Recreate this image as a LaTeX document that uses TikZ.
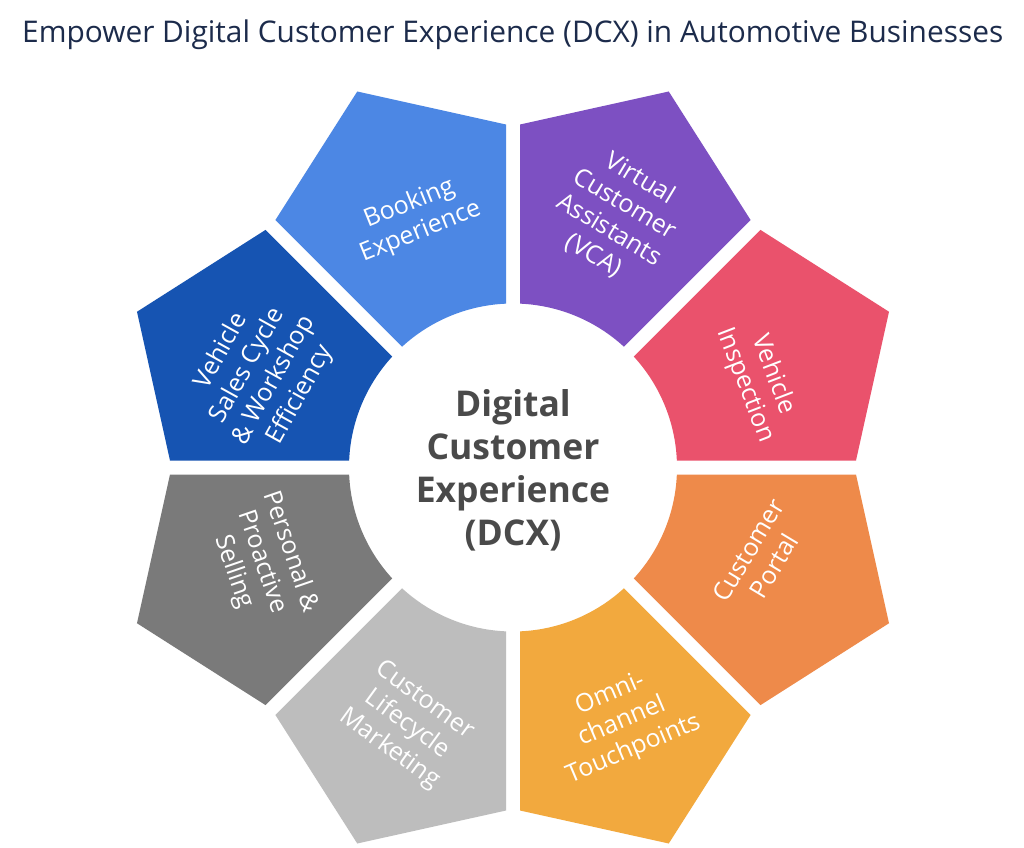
\documentclass[tikz,border=0pt]{standalone}
\usepackage{fontspec}
\setmainfont{Open Sans}
\usetikzlibrary{calc}
\definecolor{cInsp}{HTML}{EA526C}
\definecolor{cVCA}{HTML}{7D50C2}
\definecolor{cBook}{HTML}{4C87E4}
\definecolor{cSales}{HTML}{1654B2}
\definecolor{cPers}{HTML}{7A7A7A}
\definecolor{cLife}{HTML}{BDBDBD}
\definecolor{cOmni}{HTML}{F2A93E}
\definecolor{cPort}{HTML}{EE8A4A}
\definecolor{cTitle}{HTML}{1C2B4B}
\definecolor{cCenter}{HTML}{4A4A4A}
\tikzset{
  seglabel/.style={text=white, align=center, font=\fontsize{25}{30}\selectfont, inner sep=0pt},
  centerlabel/.style={text=cCenter, align=center, font=\fontsize{35.5}{43}\selectfont\bfseries, inner sep=0pt},
  titlelabel/.style={text=cTitle, anchor=base west, inner sep=0pt}
}
\begin{document}
\begin{tikzpicture}[x=1pt,y=1pt]
\useasboundingbox (-513,-379.5) rectangle (511,467.5);
\fill[white] (-513,-379.5) rectangle (511,467.5);
\def\rin{164}\def\gap{7}\def\rout{343}\def\rapex{407}
\def\dlt{2.447}
\def\tin{163.85}
\foreach \k/\col in {0/cInsp,1/cVCA,2/cBook,3/cSales,4/cPers,5/cLife,6/cOmni,7/cPort}{
  \pgfmathsetmacro{\angA}{45*\k}
  \pgfmathsetmacro{\angB}{45*\k+45}
  \pgfmathsetmacro{\angM}{45*\k+22.5}
  \fill[\col] ($(\angA:\tin)+(\angA+90:\gap)$) -- ($(\angA:\rout)+(\angA+90:\gap)$)
    -- (\angM:\rapex) -- ($(\angB:\rout)+(\angB-90:\gap)$) -- ($(\angB:\tin)+(\angB-90:\gap)$)
    arc[start angle=\angB-\dlt, end angle=\angA+\dlt, radius=\rin] -- cycle;
}
\node[titlelabel] (title) at (-491,424.5) {\resizebox{981pt}{!}{Empower Digital Customer Experience (DCX) in Automotive Businesses}};
\node[centerlabel] (dcx) at (0,-3) {Digital\\Customer\\Experience\\(DCX)};
\node[seglabel, rotate=22] (book) at (-98,249.5) {Booking\\Experience};
\node[seglabel, rotate=-31] (vca) at (104,250.5) {Virtual\\Customer\\Assistants\\(VCA)};
\node[seglabel, rotate=-69] (insp) at (246,87.5) {Vehicle\\Inspection};
\node[seglabel, rotate=59] (port) at (248,-90.5) {Customer\\Portal};
\node[seglabel, rotate=23] (omni) at (109,-254.5) {Omni-\\channel\\Touchpoints};
\node[seglabel, rotate=-36] (life) at (-106,-257.5) {Customer\\Lifecycle\\Marketing};
\node[seglabel, rotate=-71] (pers) at (-251,-94.5) {Personal \&\\Proactive\\Selling};
\node[seglabel, rotate=61] (sales) at (-252,94.5) {Vehicle\\Sales Cycle\\\& Workshop\\Efficiency};
\end{tikzpicture}
\end{document}
